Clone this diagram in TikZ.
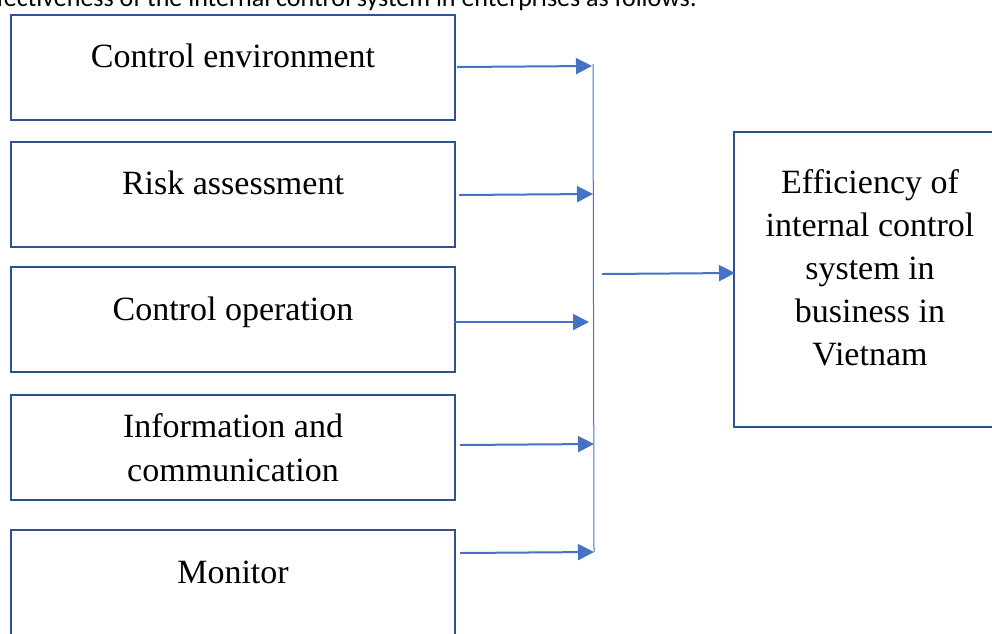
\documentclass[tikz,border=0pt]{standalone}
\usepackage{fontspec}
\setmainfont{Liberation Serif}
\newfontfamily\topfont{Carlito}
\usetikzlibrary{arrows.meta}
\definecolor{boxblue}{HTML}{2F528F}
\definecolor{arrblue}{HTML}{4472C4}
\begin{document}
\begin{tikzpicture}[x=1pt,y=-1pt,
  box/.style={draw=boxblue, line width=2pt, rectangle, inner sep=0pt, minimum width=444pt, minimum height=105pt},
  lbl/.style={font=\fontsize{34}{43}\selectfont, anchor=base, inner sep=0pt},
  arr/.style={draw=arrblue, line width=2pt, -{Triangle[length=16pt,width=16pt]}},
  bus/.style={draw=arrblue, line width=1pt}]
\useasboundingbox (0,0) rectangle (992,633);
\clip (0,0) rectangle (992,633);
\node[font=\topfont\fontsize{26}{30}\selectfont, anchor=base east, inner sep=0pt] (head) at (697,6) {effectiveness of the internal control system in enterprises as follows:};
% left boxes
\node[box] (b1) at (233,67.5) {};
\node[box] (b2) at (233,194.5) {};
\node[box] (b3) at (233,319.5) {};
\node[box] (b4) at (233,447.5) {};
\node[box] (b5) at (233,582.5) {};
\node[lbl] (l1) at (233,67) {Control environment};
\node[lbl] (l2) at (233,194) {Risk assessment};
\node[lbl] (l3) at (233,320) {Control operation};
\node[lbl] (l4a) at (233,437) {Information and};
\node[lbl] (l4b) at (233,481) {communication};
\node[lbl] (l5) at (233,583) {Monitor};
% right box
\node[draw=boxblue, line width=2pt, rectangle, inner sep=0pt, minimum width=272pt, minimum height=295pt] (eff) at (870,279.5) {};
\node[lbl] (e1) at (870,193) {Efficiency of};
\node[lbl] (e2) at (870,236) {internal control};
\node[lbl] (e3) at (870,279) {system in};
\node[lbl] (e4) at (870,322) {business in};
\node[lbl] (e5) at (870,365) {Vietnam};
% connector coordinates
\coordinate (s1) at (457,67);  \coordinate (t1) at (592,66);
\coordinate (s2) at (459,195); \coordinate (t2) at (593,194);
\coordinate (s3) at (455,322); \coordinate (t3) at (589,322);
\coordinate (s4) at (460,445); \coordinate (t4) at (594,444);
\coordinate (s5) at (460,553); \coordinate (t5) at (594,552);
\coordinate (bustop) at (593,64); \coordinate (busbot) at (594,552);
\coordinate (os) at (602,274); \coordinate (ot) at (735,273);
\draw[bus] (bustop) -- (busbot);
\draw[arr] (s1) -- (t1);
\draw[arr] (s2) -- (t2);
\draw[arr] (s3) -- (t3);
\draw[arr] (s4) -- (t4);
\draw[arr] (s5) -- (t5);
\draw[arr] (os) -- (ot);
\end{tikzpicture}
\end{document}
